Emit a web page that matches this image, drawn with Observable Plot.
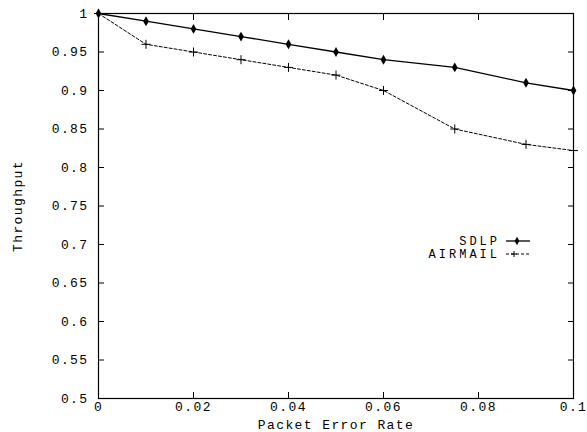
<!DOCTYPE html>
<html><head><meta charset="utf-8">
<script src="https://cdn.jsdelivr.net/npm/d3@7"></script>
<script src="https://cdn.jsdelivr.net/npm/@observablehq/plot@0.6"></script>
<style>body{margin:0;background:#fff}</style>
</head><body><div id="chart"></div>
<script>
const errorRate = [0, 0.01, 0.02, 0.03, 0.04, 0.05, 0.06, 0.075, 0.09, 0.1];
const sdlp = [1, 0.99, 0.98, 0.97, 0.96, 0.95, 0.94, 0.93, 0.91, 0.90];
const airmail = [1, 0.96, 0.95, 0.94, 0.93, 0.92, 0.90, 0.85, 0.83, 0.822];
const seriesNames = ["SDLP", "AIRMAIL"];
const xTicks = [0, 0.02, 0.04, 0.06, 0.08, 0.1];
const yTicks = [0.5, 0.55, 0.6, 0.65, 0.7, 0.75, 0.8, 0.85, 0.9, 0.95, 1];

const dS = errorRate.map((x, i) => ({x, y: sdlp[i]}));
const dA = errorRate.map((x, i) => ({x, y: airmail[i]}));
const font = "'Liberation Mono', 'Courier New', monospace";

function legend(index, scales, values, dims) {
  const g = d3.create("svg:g").attr("font-family", font).attr("font-size", 12).attr("letter-spacing", "3px");
  const right = dims.width - dims.marginRight;
  const top = dims.marginTop;
  const styles = [
    {dash: null, w: 1.3, sym: "diamond"},
    {dash: "3,2", w: 1, sym: "plus"}
  ];
  seriesNames.forEach((name, i) => {
    const y = top + 228 + i * 13;
    const tx = right - 73;
    g.append("text").attr("x", tx).attr("y", y).attr("dy", "0.35em")
      .attr("text-anchor", "end").attr("fill", "black").text(name);
    g.append("line").attr("x1", tx + 6).attr("x2", tx + 30).attr("y1", y).attr("y2", y)
      .attr("stroke", "black").attr("stroke-width", styles[i].w)
      .attr("stroke-dasharray", styles[i].dash);
    const sx = tx + 17;
    if (styles[i].sym === "diamond") {
      g.append("path").attr("d", d3.symbol(d3.symbolDiamond, 20)()).attr("transform", `translate(${sx},${y})`).attr("fill", "black");
    } else {
      g.append("path").attr("d", "M-3,0H3M0,-3V3").attr("transform", `translate(${sx - 3},${y})`).attr("stroke", "black").attr("stroke-width", 1);
    }
  });
  return g.node();
}

const chart = Plot.plot({
  width: 587,
  height: 432,
  marginLeft: 98,
  marginRight: 14,
  marginTop: 13,
  marginBottom: 34,
  style: {fontFamily: font, fontSize: "13px", letterSpacing: "1.4px", color: "black", background: "white", overflow: "visible"},
  x: {domain: [0, 0.1]},
  y: {domain: [0.5, 1]},
  marks: [
    Plot.frame({stroke: "black", strokeWidth: 1.2}),
    Plot.axisX(xTicks, {anchor: "bottom", tickSize: 0, tickPadding: 3, tickFormat: d => String(d), label: "Packet Error Rate", labelAnchor: "center", labelArrow: "none", labelOffset: 30, fontSize: 13}),
    Plot.axisX(xTicks, {anchor: "bottom", tickSize: 6, dy: -6, tickFormat: () => "", label: null}),
    Plot.axisX(xTicks, {anchor: "top", tickSize: 6, dy: 6, tickFormat: () => "", label: null}),
    Plot.axisY(yTicks, {anchor: "left", tickSize: 0, tickPadding: 10, tickFormat: d => String(d), label: "Throughput", labelAnchor: "center", labelOffset: 86, labelArrow: "none", fontSize: 13}),
    Plot.axisY(yTicks, {anchor: "left", tickSize: 6, dx: 6, tickFormat: () => "", label: null}),
    Plot.axisY(yTicks, {anchor: "right", tickSize: 6, dx: -6, tickFormat: () => "", label: null}),
    Plot.line(dS, {x: "x", y: "y", stroke: "black", strokeWidth: 1.3}),
    Plot.line(dA, {x: "x", y: "y", stroke: "black", strokeWidth: 1, strokeDasharray: "3,2"}),
    Plot.dot(dS, {x: "x", y: "y", symbol: "diamond", fill: "black", r: 3}),
    Plot.dot(dA, {x: "x", y: "y", symbol: "plus", stroke: "black", strokeWidth: 1, r: 3}),
    legend
  ]
});
document.getElementById("chart").append(chart);
</script>
</body></html>
